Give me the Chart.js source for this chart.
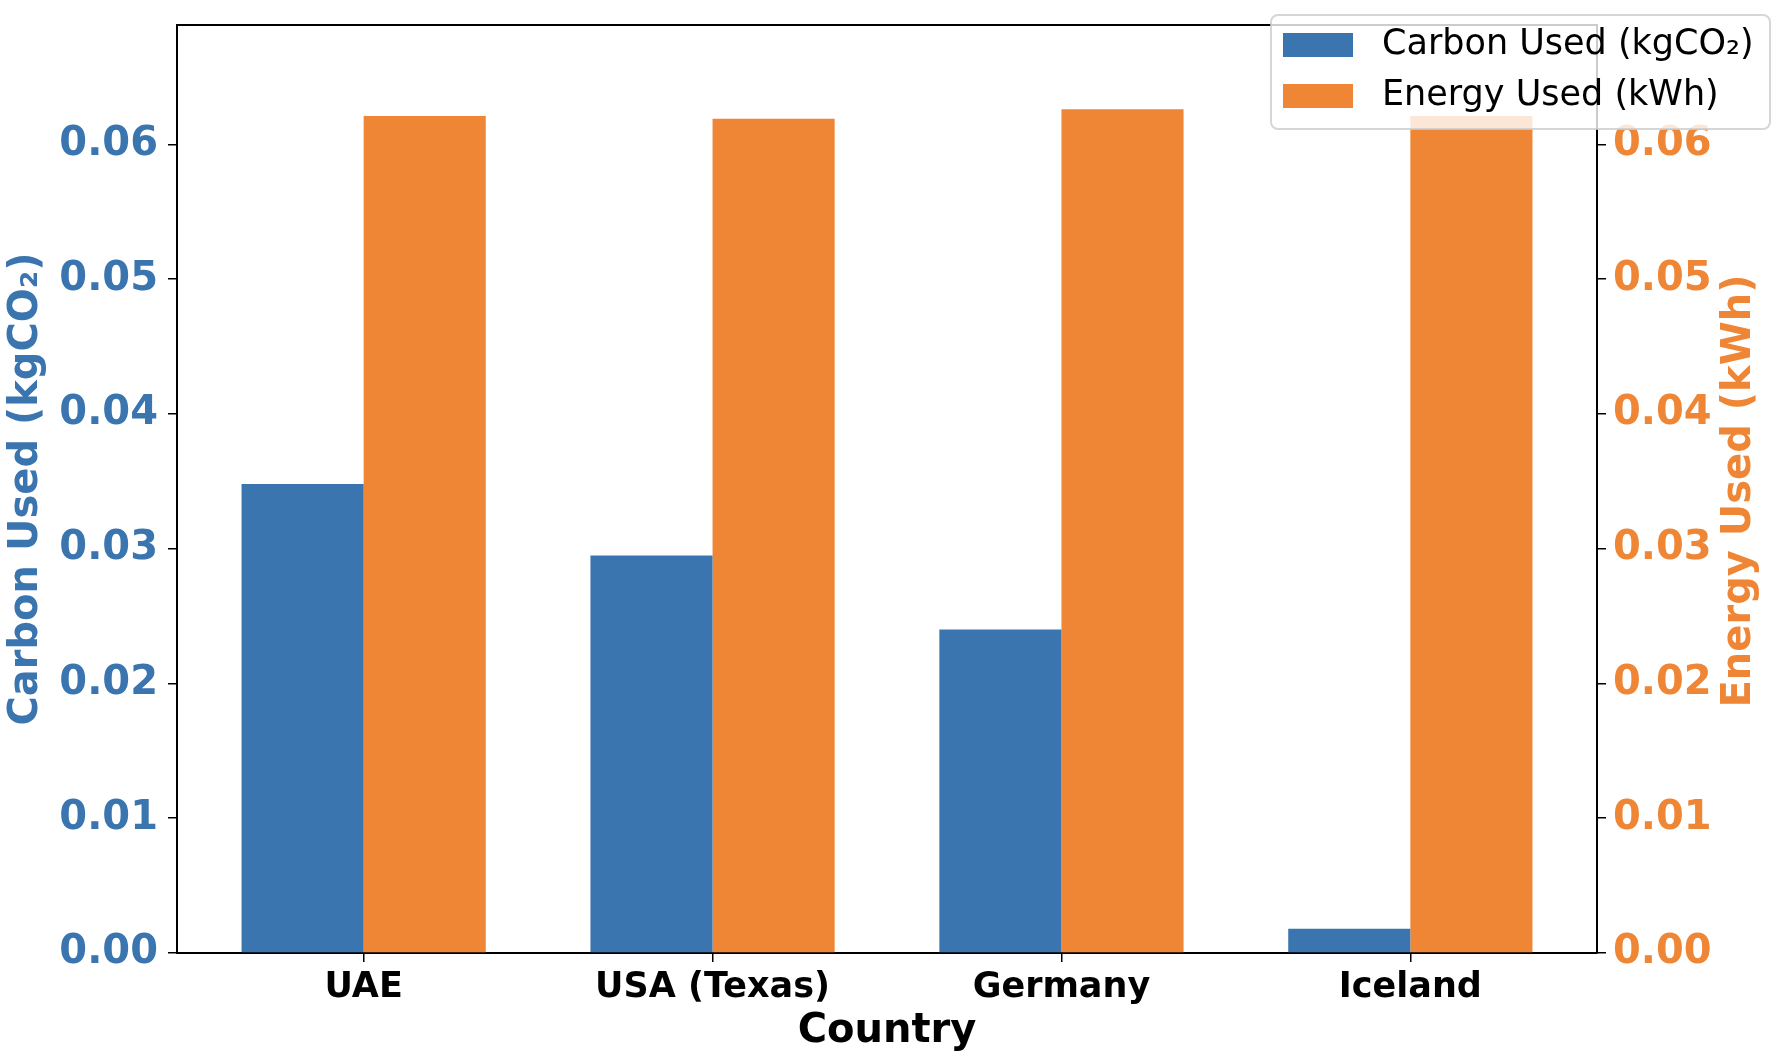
<!DOCTYPE html>
<html>
<head>
<meta charset="utf-8">
<script src="https://cdn.jsdelivr.net/npm/chart.js@4.4.1/dist/chart.umd.min.js"></script>
<style>
  body { margin: 0; background: #fff; }
  #wrap { width: 1782px; height: 1062px; }
</style>
</head>
<body>
<div id="wrap"><canvas id="chart"></canvas></div>
<script>
// datos
const countries = ['UAE', 'USA (Texas)', 'Germany', 'Iceland'];
const carbonUsed = [0.0348, 0.0295, 0.0240, 0.0018];   // kgCO2
const energyUsed = [0.0621, 0.0619, 0.0626, 0.0621];   // kWh
const yTicks = [0, 0.01, 0.02, 0.03, 0.04, 0.05, 0.06];

const BLUE = '#3b75af';
const ORANGE = '#ef8636';
const FONT = "'DejaVu Sans', sans-serif";
const yMax = Math.max(...energyUsed, ...carbonUsed) * 1.1;

// leyenda y título derecho dibujados a mano (estilo matplotlib)
const extras = {
    id: 'extras',
    afterDraw(chart) {
        const ctx = chart.ctx;
        const area = chart.chartArea;
        ctx.save();
        // borde superior del área
        ctx.strokeStyle = '#000';
        ctx.lineWidth = 2;
        ctx.beginPath();
        ctx.moveTo(area.left - 1, area.top);
        ctx.lineTo(area.right + 1, area.top);
        ctx.stroke();

        // título eje derecho, leído de abajo hacia arriba
        ctx.save();
        ctx.translate(1740, 491);
        ctx.rotate(-Math.PI / 2);
        ctx.font = 'bold 40px ' + FONT;
        ctx.fillStyle = ORANGE;
        ctx.textAlign = 'center';
        ctx.textBaseline = 'middle';
        ctx.fillText('Energy Used (kWh)', 0, 0);
        ctx.restore();

        // caja de leyenda
        const bx = 1271, by = 15, bw = 499, bh = 114, r = 7;
        ctx.beginPath();
        ctx.roundRect(bx, by, bw, bh, r);
        ctx.fillStyle = 'rgba(255,255,255,0.8)';
        ctx.fill();
        ctx.strokeStyle = 'rgba(204,204,204,0.8)';
        ctx.lineWidth = 2;
        ctx.stroke();

        const items = [
            { label: 'Carbon Used (kgCO₂)', color: BLUE, y: 33 },
            { label: 'Energy Used (kWh)', color: ORANGE, y: 84 }
        ];
        ctx.font = '35px ' + FONT;
        ctx.textAlign = 'left';
        ctx.textBaseline = 'middle';
        items.forEach(it => {
            ctx.fillStyle = it.color;
            ctx.fillRect(1283, it.y, 70, 24);
            ctx.fillStyle = '#000';
            ctx.fillText(it.label, 1382, it.y + 12);
        });
        ctx.restore();
    }
};

function noPad(s) {
    s.paddingTop = 0;
    s.paddingBottom = 0;
}

const ctx = document.getElementById('chart').getContext('2d');
const chart = new Chart(ctx, {
    type: 'bar',
    data: {
        datasets: [
            {
                label: 'Carbon Used (kgCO₂)',
                data: carbonUsed.map((v, i) => ({ x: i, y: v })),
                backgroundColor: BLUE,
                yAxisID: 'y'
            },
            {
                label: 'Energy Used (kWh)',
                data: energyUsed.map((v, i) => ({ x: i, y: v })),
                backgroundColor: ORANGE,
                yAxisID: 'y1'
            }
        ]
    },
    options: {
        responsive: true,
        maintainAspectRatio: false,
        animation: false,
        layout: { padding: { top: 25, left: 0, right: 0, bottom: 0 } },
        datasets: { bar: { categoryPercentage: 0.7, barPercentage: 1.0 } },
        plugins: {
            legend: { display: false },
            tooltip: { enabled: false }
        },
        scales: {
            x: {
                type: 'linear',
                offset: false,
                min: -0.535,
                max: 3.535,
                afterBuildTicks: s => { s.ticks = countries.map((c, i) => ({ value: i })); },
                afterFit: s => { s.height = 109; },
                grid: { offset: false, drawOnChartArea: false, drawTicks: true, tickLength: 9, color: '#000', lineWidth: 1.5 },
                border: { display: true, color: '#000', width: 2 },
                ticks: {
                    color: '#000',
                    padding: 5,
                    maxRotation: 0,
                    autoSkip: false,
                    font: { family: FONT, size: 35, weight: 'bold' },
                    callback: v => countries[v]
                },
                title: {
                    display: true,
                    text: 'Country',
                    color: '#000',
                    padding: { top: 0, bottom: 6 },
                    font: { family: FONT, size: 40, weight: 'bold' }
                }
            },
            y: {
                position: 'left',
                min: 0,
                max: yMax,
                afterBuildTicks: s => { s.ticks = yTicks.map(v => ({ value: v })); },
                afterFit: s => { s.width = 177; noPad(s); },
                grid: { drawOnChartArea: false, drawTicks: true, tickLength: 9, color: '#000', lineWidth: 1.5 },
                border: { display: true, color: '#000', width: 2 },
                ticks: {
                    color: BLUE,
                    padding: 10,
                    font: { family: FONT, size: 40, weight: 'bold' },
                    callback: v => v.toFixed(2)
                },
                title: {
                    display: true,
                    text: 'Carbon Used (kgCO₂)',
                    color: BLUE,
                    padding: { top: 3, bottom: 0 },
                    font: { family: FONT, size: 40, weight: 'bold' }
                }
            },
            y1: {
                position: 'right',
                min: 0,
                max: yMax,
                afterBuildTicks: s => { s.ticks = yTicks.map(v => ({ value: v })); },
                afterFit: s => { s.width = 185; noPad(s); },
                grid: { drawOnChartArea: false, drawTicks: true, tickLength: 9, color: '#000', lineWidth: 1.5 },
                border: { display: true, color: '#000', width: 2 },
                ticks: {
                    color: ORANGE,
                    padding: 7,
                    font: { family: FONT, size: 40, weight: 'bold' },
                    callback: v => v.toFixed(2)
                }
            }
        }
    },
    plugins: [extras]
});
</script>
</body>
</html>
